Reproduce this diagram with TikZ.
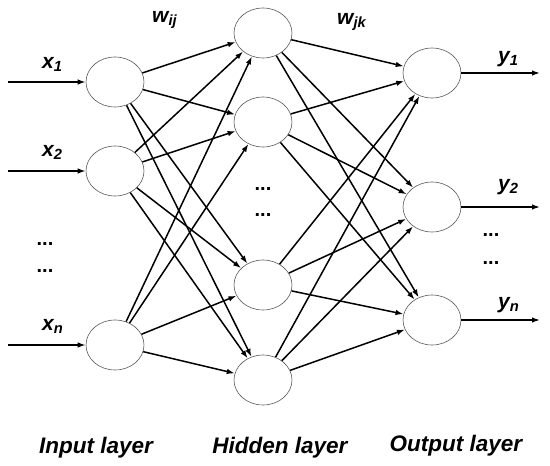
\documentclass[tikz,border=0pt]{standalone}
\usepackage{fontspec}
\setmainfont{Liberation Sans}
\usetikzlibrary{shapes.geometric}
\usetikzlibrary{arrows.meta}
\usetikzlibrary{positioning}

\begin{document}
\begin{tikzpicture}[x=1pt,y=-1pt,
  neuron/.style={ellipse,draw=black!65,line width=0.6pt,minimum width=58pt,minimum height=50pt,inner sep=0pt},
  conn/.style={-{Latex[length=8pt,width=5.5pt]},line width=1.5pt},
  lbl/.style={font=\fontsize{21}{24}\selectfont\bfseries\itshape,inner sep=0pt,anchor=base west},
  dots/.style={font=\fontsize{20}{24}\selectfont\bfseries,inner sep=0pt},
  layer/.style={font=\fontsize{22.5}{26}\selectfont\bfseries\itshape,inner sep=0pt,anchor=base}]
\useasboundingbox (0,0) rectangle (550,466);
% input layer
\node[neuron] (i1) at (115,82) {};
\node[neuron] (i2) at (115,171) {};
\node[neuron] (i3) at (115,345) {};
% hidden layer
\node[neuron] (h1) at (263,33) {};
\node[neuron] (h2) at (263,122) {};
\node[neuron] (h3) at (263,285) {};
\node[neuron] (h4) at (263,380) {};
% output layer
\node[neuron] (o1) at (432,73) {};
\node[neuron] (o2) at (432,207) {};
\node[neuron] (o3) at (432,320) {};

% weights
\foreach \a in {i1,i2,i3}
  \foreach \b in {h1,h2,h3,h4}
    \draw[conn] (\a) -- (\b);
\foreach \a in {h1,h2,h3,h4}
  \foreach \b in {o1,o2,o3}
    \draw[conn] (\a) -- (\b);

% inputs and outputs
\coordinate (in1) at (8,82);
\coordinate (in2) at (8,171);
\coordinate (in3) at (8,345);
\coordinate (out1) at (540,73);
\coordinate (out2) at (540,207);
\coordinate (out3) at (540,320);
\foreach \n in {1,2,3} {
  \draw[conn] (in\n) -- (i\n);
  \draw[conn] (o\n) -- (out\n);
}

% labels
\node[lbl] (lx1) at (42,68) {x\textsubscript{1}};
\node[lbl] (lx2) at (42,156) {x\textsubscript{2}};
\node[lbl] (lxn) at (42,330) {x\textsubscript{n}};
\node[lbl] (lwij) at (152,22) {w\textsubscript{ij}};
\node[lbl] (lwjk) at (337,24) {w\textsubscript{jk}};
\node[lbl] (ly1) at (498,62) {y\textsubscript{1}};
\node[lbl] (ly2) at (498,190) {y\textsubscript{2}};
\node[lbl] (lyn) at (498,308) {y\textsubscript{n}};

\node[dots] (d1) at (45,244) {...};
\node[dots] (d2) at (45,271) {...};
\node[dots] (d3) at (263,189) {...};
\node[dots] (d4) at (263,215) {...};
\node[dots] (d5) at (491,235) {...};
\node[dots] (d6) at (491,263) {...};

\node[layer] (inl) at (96,453) {Input layer};
\node[layer] (hidl) at (280,453) {Hidden layer};
\node[layer] (outl) at (456,451) {Output layer};
\end{tikzpicture}
\end{document}
